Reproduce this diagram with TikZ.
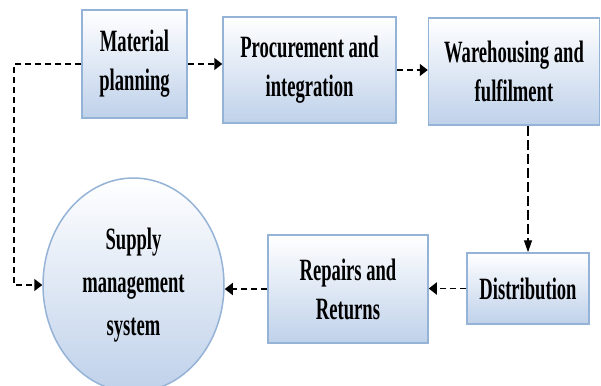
\documentclass[tikz,border=0pt]{standalone}
\usepackage{fontspec}
\setmainfont{Liberation Serif}[FakeStretch=0.6]
\usetikzlibrary{arrows.meta,shapes.geometric}
\definecolor{boxline}{HTML}{95B3D7}
\definecolor{boxshade}{HTML}{BFD1EA}
\tikzset{
	stage/.style={draw=boxline, line width=1.5pt, top color=white, bottom color=boxshade, align=center, inner sep=0pt, font=\bfseries\fontsize{31}{39}\selectfont},
	hflow/.style={line width=1.6pt, dash pattern=on 6pt off 4pt, -{Triangle[length=8pt,width=12pt]}},
	vflow/.style={line width=1.3pt, dash pattern=on 10pt off 4pt, -{Triangle[length=12pt,width=8pt]}}
}
\begin{document}
\begin{tikzpicture}[x=1pt, y=-1pt]
			\useasboundingbox (0,0) rectangle (601,385);
			\node[stage, minimum width=105pt, minimum height=108pt] (mat) at (134.5,64) {Material\\planning};
			\node[stage, minimum width=173pt, minimum height=106pt] (proc) at (309.5,70) {Procurement and\\integration};
			\node[stage, minimum width=171pt, minimum height=107pt] (ware) at (514,71.5) {Warehousing and\\fulfilment};
			\node[stage, minimum width=122pt, minimum height=71pt] (dist) at (528,288.5) {Distribution};
			\node[stage, minimum width=160pt, minimum height=108pt] (rep) at (348,289) {Repairs and\\Returns};
			\node[stage, ellipse, minimum width=181pt, minimum height=214pt, font=\bfseries\fontsize{31}{43}\selectfont] (sys) at (133.5,285) {Supply\\management\\system};
			\draw[hflow] (mat.east) -- (mat.east -| proc.west);
			\draw[hflow] (proc.east) -- (proc.east -| ware.west);
			\draw[vflow] (dist.north |- ware.south) -- (dist.north);
			\draw[hflow] (dist.west) -- (dist.west -| rep.east);
			\draw[hflow] (rep.west) -- (rep.west -| sys.east);
			\draw[hflow] (mat.west) -- ++(-67,0) |- (sys.west);
		\end{tikzpicture}
\end{document}
